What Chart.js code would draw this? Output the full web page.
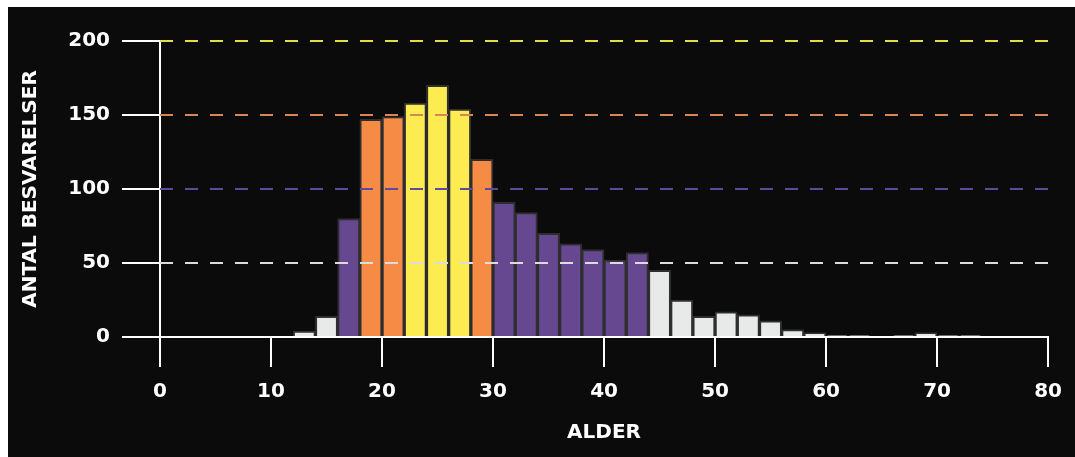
<!DOCTYPE html>
<html lang="da">
<head>
<meta charset="utf-8">
<title>Alder</title>
<script src="https://cdn.jsdelivr.net/npm/chart.js"></script>
<style>
    html, body { margin: 0; padding: 0; background: #fff; }
    #wrap {
        position: absolute;
        left: 8px;
        top: 7px;
        width: 1067px;
        height: 450px;
        background: #0b0b0b;
    }
</style>
</head>
<body>
<div id="wrap"><canvas id="ageChart"></canvas></div>

<script>
    // Aldersfordeling, intervaller på 2 år
    const binStarts = [12, 14, 16, 18, 20, 22, 24, 26, 28, 30, 32, 34, 36, 38, 40, 42,
                       44, 46, 48, 50, 52, 54, 56, 58, 60, 62, 64, 66, 68, 70, 72];
    const counts = [4, 14, 80, 147, 149, 158, 170, 154, 120, 91, 84, 70, 63, 59, 52, 57,
                    45, 25, 14, 17, 15, 11, 5, 3, 1, 1, 0, 1, 3, 1, 1];
    const binWidth = 2;

    // Stiplede niveaulinjer
    const levels = [50, 100, 150, 200];
    const levelColors = ['#dcdcdc', '#5d4a9c', '#d98656', '#e3dd4c'];

    const yTicks = [0, 50, 100, 150, 200];
    const xTicks = [0, 10, 20, 30, 40, 50, 60, 70, 80];

    const FONT = { family: 'DejaVu Sans', size: 20, weight: 'bold' };

    function barColor(v) {
        if (v >= 150) return '#fdeb52';
        if (v >= 100) return '#f68b45';
        if (v >= 50) return '#65488f';
        return '#e8e9e9';
    }

    const levelSets = levels.map((lv, i) => ({
        type: 'line',
        data: [{ x: xTicks[0], y: lv }, { x: xTicks[xTicks.length - 1], y: lv }],
        borderColor: levelColors[i],
        borderWidth: 2,
        borderDash: [13, 12],
        pointRadius: 0,
        fill: false,
        clip: false,
        order: 0
    }));

    const ctx = document.getElementById('ageChart').getContext('2d');
    new Chart(ctx, {
        type: 'bar',
        data: {
            datasets: [
                ...levelSets,
                {
                    type: 'bar',
                    data: binStarts.map((s, i) => ({ x: s + binWidth / 2, y: counts[i] })),
                    backgroundColor: counts.map(barColor),
                    borderColor: '#2e2e2e',
                    borderWidth: 2,
                    barPercentage: 1,
                    categoryPercentage: 1,
                    order: 1
                }
            ]
        },
        options: {
            responsive: true,
            maintainAspectRatio: false,
            animation: false,
            layout: { padding: { top: 34, right: 26, left: 0, bottom: 0 } },
            plugins: {
                legend: { display: false },
                tooltip: { enabled: false }
            },
            scales: {
                x: {
                    type: 'linear',
                    min: 0,
                    max: 80,
                    offset: false,
                    afterBuildTicks: (s) => { s.ticks = xTicks.map(v => ({ value: v })); },
                    ticks: {
                        color: '#fff',
                        font: FONT,
                        padding: 13,
                        maxRotation: 0
                    },
                    grid: {
                        offset: false,
                        drawOnChartArea: false,
                        color: '#fff',
                        lineWidth: 2,
                        tickLength: 30
                    },
                    border: { color: '#fff', width: 2 },
                    title: {
                        display: true,
                        text: 'ALDER',
                        color: '#fff',
                        font: FONT,
                        padding: { top: 0, bottom: 12 }
                    },
                    afterFit: (s) => { s.height = 120; }
                },
                y: {
                    min: 0,
                    max: 200,
                    afterBuildTicks: (s) => { s.ticks = yTicks.map(v => ({ value: v })); },
                    ticks: {
                        color: '#fff',
                        font: FONT,
                        padding: 12
                    },
                    grid: {
                        drawOnChartArea: false,
                        color: '#fff',
                        lineWidth: 2,
                        tickLength: 38
                    },
                    border: { color: '#fff', width: 2 },
                    title: {
                        display: true,
                        text: 'ANTAL BESVARELSER',
                        color: '#fff',
                        font: FONT,
                        padding: { top: 11 }
                    },
                    afterFit: (s) => { s.width = 152; }
                }
            }
        }
    });
</script>
</body>
</html>
